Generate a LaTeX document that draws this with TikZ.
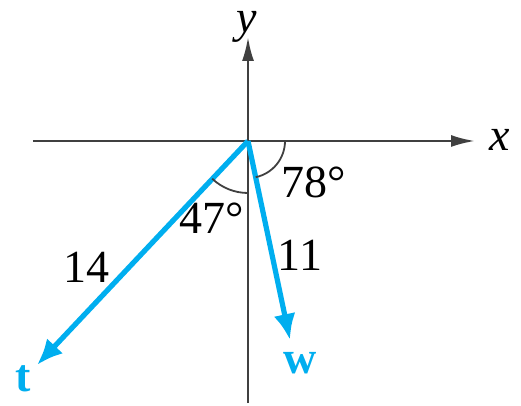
\documentclass[tikz,border=0pt]{standalone}
\usepackage{fontspec}
\setmainfont{Liberation Serif}
\usepackage{tikz}
\usetikzlibrary{arrows.meta}
\definecolor{vecblue}{RGB}{0,174,239}

\begin{document}
\begin{tikzpicture}[x=0.25pt, y=0.25pt, font=\fontsize{11.5}{13}\selectfont]
		\tikzstyle{axis_line} = [draw=black!75, line width=0.6pt,
		-{Latex[length=6pt,width=3pt]}]
		\tikzstyle{vec_line} = [draw=vecblue, line width=1.3pt,
		-{Latex[length=6.5pt,width=5.5pt]}]
		\tikzstyle{angle_arc} = [draw=black!75, line width=0.45pt]
		\useasboundingbox (-248,-264) rectangle (273,141);
		% origin and ends of axes / vectors
		\coordinate (O) at (0,0);
		\coordinate (xl) at (-215,0);
		\coordinate (xr) at (227,0);
		\coordinate (yb) at (0,-262);
		\coordinate (yt) at (0,104);
		\coordinate (tend) at (-211,-224);
		\coordinate (wend) at (42,-199);
		\draw[axis_line] (xl) -- (xr);
		\draw[axis_line] (yb) -- (yt);
		\node (xlab) at (252,1) {\textit{x}};
		\node[inner sep=0pt] (ylab) at (-1,114) {\textit{y}};
		\draw[vec_line] (O) -- (tend);
		\draw[vec_line] (O) -- (wend);
		\node[text=vecblue] (tlab) at (-225,-238) {\textbf{t}};
		\node[text=vecblue] (wlab) at (52,-222) {\textbf{w}};
		\node (len14) at (-161,-126) {14};
		\node (len11) at (52,-114) {11};
		\draw[angle_arc] (O) ++(0:9.25pt) arc[start angle=0, end angle=-78, radius=9.25pt];
		\draw[angle_arc] (O) ++(270:13pt) arc[start angle=270, end angle=226.5, radius=13pt];
		\node (ang47) at (-36,-77) {47\textdegree};
		\node (ang78) at (66,-41) {78\textdegree};
	\end{tikzpicture}
\end{document}
